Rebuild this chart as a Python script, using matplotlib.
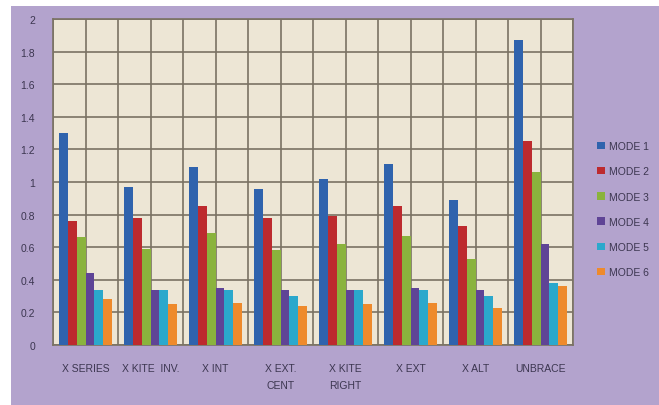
import numpy as np
import matplotlib
matplotlib.use("Agg")
import matplotlib.pyplot as plt
from matplotlib.patches import Rectangle

plt.rcParams['font.family'] = ['Liberation Sans', 'DejaVu Sans']

categories = ['X SERIES', 'X KITE  INV.', 'X INT', 'X EXT.\nCENT', 'X KITE\nRIGHT',
              'X EXT', 'X ALT', 'UNBRACE']
modes = ['MODE 1', 'MODE 2', 'MODE 3', 'MODE 4', 'MODE 5', 'MODE 6']
mode1 = [1.30, 0.97, 1.09, 0.96, 1.02, 1.11, 0.89, 1.87]
mode2 = [0.76, 0.78, 0.85, 0.78, 0.79, 0.85, 0.73, 1.25]
mode3 = [0.66, 0.59, 0.69, 0.58, 0.62, 0.67, 0.53, 1.06]
mode4 = [0.44, 0.34, 0.35, 0.34, 0.34, 0.35, 0.34, 0.62]
mode5 = [0.34, 0.34, 0.34, 0.30, 0.34, 0.34, 0.30, 0.38]
mode6 = [0.28, 0.25, 0.26, 0.24, 0.25, 0.26, 0.23, 0.36]
yticks = [0, 0.2, 0.4, 0.6, 0.8, 1, 1.2, 1.4, 1.6, 1.8, 2]
ytick_labels = ['0', '0.2', '0.4', '0.6', '0.8', '1', '1.2', '1.4', '1.6', '1.8', '2']

series = [mode1, mode2, mode3, mode4, mode5, mode6]
colors = ['#2f63ad', '#bd2a2e', '#8ab33d', '#5f4496', '#2ba8cc', '#ee8a2c']

fig = plt.figure(figsize=(6.59, 4.06), dpi=100, facecolor='white')
# purple chart background (white strip at top and left like the screenshot)
fig.patches.append(Rectangle((11 / 659, 0), 1, (406 - 7) / 406,
                             transform=fig.transFigure, facecolor='#b3a3cd',
                             edgecolor='none', zorder=-10))

ax = fig.add_axes([53 / 659, 60 / 406, 520 / 659, 326 / 406])
ax.set_zorder(1)
ax.set_facecolor('#ede6d5')

x = np.arange(len(categories))
bw = 0.82 / len(series)
for i, (vals, c, m) in enumerate(zip(series, colors, modes)):
    ax.bar(x - 0.41 + bw * (i + 0.5), vals, width=bw, color=c, label=m,
           edgecolor='none', zorder=3)

ax.set_xlim(-0.5, len(categories) - 0.5)
ax.set_ylim(0, 2)
ax.set_yticks(yticks)
ax.set_yticklabels(ytick_labels)
ax.set_xticks(x)
ax.set_xticklabels(categories, linespacing=1.9, va='top')
ax.set_xticks(np.arange(-0.5, len(categories), 1.0), minor=True)
ax.tick_params(axis='both', which='both', length=0, labelsize=7.5, colors='#3c3650')
ax.tick_params(axis='x', pad=13)
ax.tick_params(axis='y', pad=13)

# vertical lines at group edges and group centres, horizontal every 0.2
ax.grid(True, which='both', axis='x', color='#7a7263', linewidth=1.2, zorder=1)
ax.grid(True, which='major', axis='y', color='#7a7263', linewidth=1.2, zorder=1)
ax.set_axisbelow(True)
for s in ax.spines.values():
    s.set_color('#7a7263')
    s.set_linewidth(1.2)

fig.legend(loc='upper left', bbox_to_anchor=(588 / 659, 1 - 133 / 406),
           frameon=False, fontsize=7.5, handlelength=0.7, handleheight=0.7,
           handletextpad=0.4, labelspacing=1.45, labelcolor='#3c3650')

fig.savefig('out.png', dpi=100, facecolor=fig.get_facecolor())
